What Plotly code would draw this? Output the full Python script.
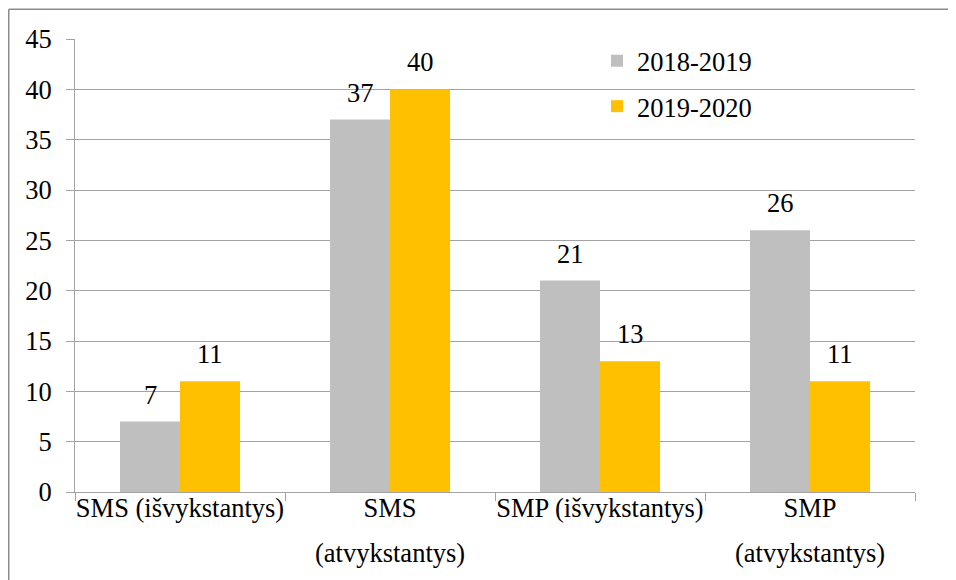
import plotly.graph_objects as go

categories = ["SMS (išvykstantys)", "SMS (atvykstantys)", "SMP (išvykstantys)", "SMP (atvykstantys)"]
tick_first_lines = ["SMS (išvykstantys)", "SMS", "SMP (išvykstantys)", "SMP"]
tick_second_lines = ["", "(atvykstantys)", "", "(atvykstantys)"]
series_names = ["2018-2019", "2019-2020"]
values_2018_2019 = [7, 37, 21, 26]
values_2019_2020 = [11, 40, 13, 11]
colors = ["#BFBFBF", "#FFC000"]

FONT = "Liberation Serif"
FS = 26.5
GRID = "#A3A3A3"

W, H = 948, 572
ml, mr, mt, mb = 67, 41, 31, 88
pw, ph = W - ml - mr, H - mt - mb
BARGAP = 90 / 210
ncat = len(categories)
bar_px = pw / ncat * (1 - BARGAP) / 2

fig = go.Figure()
annotations = []
for i, (name, vals) in enumerate(zip(series_names, [values_2018_2019, values_2019_2020])):
    fig.add_trace(go.Bar(
        x=categories, y=vals, name=name,
        marker=dict(color=colors[i], line=dict(width=0)),
        legendgroup=f"g{i}",
    ))
    for c, v in zip(categories, vals):
        annotations.append(dict(
            x=c, xref="x", y=v, yref="y", text=str(v), showarrow=False,
            yanchor="bottom", xanchor="center",
            xshift=(i - 0.5) * bar_px, yshift=10,
            font=dict(family=FONT, size=FS, color="black"),
        ))

for c, s in zip(categories, tick_second_lines):
    if s:
        annotations.append(dict(
            x=c, xref="x", y=-(545 - (H - mb)) / ph, yref="paper",
            text=s, showarrow=False, yanchor="middle",
            font=dict(family=FONT, size=FS, color="black"),
        ))

bx = (0.75 - ml) / pw
by = 1 + (mt - 1.25) / ph
shapes = [
    dict(type="line", xref="paper", yref="paper", x0=bx, x1=bx, y0=-1, y1=by,
         line=dict(color="#8C8C8C", width=1.5)),
    dict(type="line", xref="paper", yref="paper", x0=bx, x1=2, y0=by, y1=by,
         line=dict(color="#8C8C8C", width=1.5)),
]

fig.update_layout(
    width=W, height=H,
    margin=dict(l=ml, r=mr, t=mt, b=mb, pad=0, autoexpand=False),
    paper_bgcolor="white", plot_bgcolor="white",
    barmode="group", bargap=BARGAP, bargroupgap=0,
    font=dict(family=FONT, size=FS, color="black"),
    showlegend=True,
    legend=dict(x=(589 - ml) / pw, y=1 + 2 / ph, xanchor="left", yanchor="top",
                bgcolor="rgba(0,0,0,0)", traceorder="grouped", tracegroupgap=8,
                font=dict(family=FONT, size=FS, color="black")),
    xaxis=dict(
        type="category", tickmode="array", tickvals=categories, ticktext=tick_first_lines,
        tickangle=0, automargin=False,
        tickson="boundaries", ticks="outside", ticklen=8, tickcolor=GRID,
        showline=True, linecolor=GRID, linewidth=1, showgrid=False,
        ticklabelstandoff=-8,
        tickfont=dict(family=FONT, size=FS, color="black"),
    ),
    yaxis=dict(
        range=[0, 45], dtick=5, tick0=0, ticks="outside", ticklen=8, tickcolor=GRID,
        automargin=False, ticklabelstandoff=9,
        showline=True, linecolor=GRID, linewidth=1,
        showgrid=True, gridcolor=GRID, gridwidth=1, zeroline=False,
        tickfont=dict(family=FONT, size=FS, color="black"),
    ),
    annotations=annotations, shapes=shapes,
)

fig.write_html("out.html")
